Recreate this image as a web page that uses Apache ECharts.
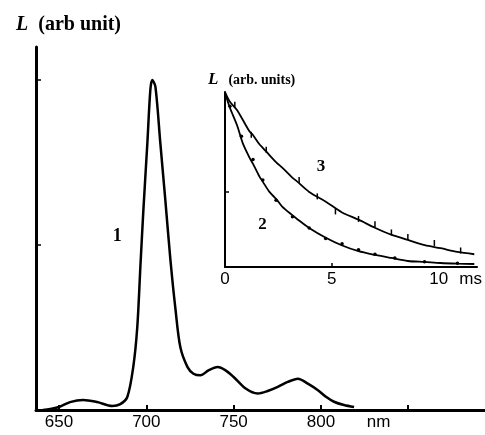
<!DOCTYPE html>
<html>
<head>
<meta charset="utf-8">
<script src="https://cdn.jsdelivr.net/npm/echarts@6.0.0/dist/echarts.min.js"></script>
<style>
  html, body { margin: 0; padding: 0; background: #fff; }
  #chart { width: 485px; height: 435px; }
</style>
</head>
<body>
<div id="chart"></div>
<script>
// Emission spectrum (curve 1)
const wavelength = [640.8, 644.8, 650, 656.3, 663.8, 671.8, 680.5, 685.1, 689.1, 692.5, 694.8, 696.6,
  698.3, 700.6, 702.3, 703.4, 705.2, 708.0, 710.9, 713.8, 716.7, 719.5, 723.6, 727.0, 731.0, 735.6,
  740.8, 745.4, 750.0, 756.9, 763.8, 769.5, 775.3, 781.0, 786.8, 792.5, 798.3, 802.9, 807.5, 813.2, 819.0];
const spectrum = [0, 0.006, 0.018, 0.048, 0.061, 0.048, 0.024, 0.036, 0.079, 0.26, 0.50, 0.87,
  1.21, 1.62, 1.94, 2.0, 1.96, 1.62, 1.27, 0.91, 0.61, 0.38, 0.26, 0.22, 0.21, 0.24,
  0.26, 0.24, 0.20, 0.13, 0.10, 0.115, 0.14, 0.17, 0.19, 0.16, 0.12, 0.08, 0.05, 0.03, 0.018];
const nmTicks = [650, 700, 750, 800, 850];
const nmLabels = [650, 700, 750, 800];

// Decay kinetics (inset): fitted curves 2 and 3
const decayTime = [0, 0.23, 0.56, 0.83, 1.16, 1.30, 1.62, 1.76, 2.08, 2.41, 2.69, 3.15, 3.33, 3.94,
  4.72, 5.46, 6.25, 7.04, 7.78, 8.56, 9.35, 10.09, 10.88, 11.67];
const decay3 = [2.33, 2.2, 2.09, 1.96, 1.80, 1.76, 1.63, 1.59, 1.49, 1.39, 1.32, 1.19, 1.15, 1.0,
  0.87, 0.73, 0.63, 0.52, 0.43, 0.36, 0.29, 0.25, 0.2, 0.17];
const decay2 = [2.32, 2.12, 1.89, 1.65, 1.45, 1.38, 1.2, 1.14, 1.0, 0.90, 0.8, 0.69, 0.65, 0.52,
  0.39, 0.29, 0.21, 0.16, 0.12, 0.08, 0.067, 0.053, 0.045, 0.04];

// measured points
const meas3Time = [0.46, 1.23, 1.93, 3.47, 4.32, 5.17, 6.25, 7.02, 7.79, 8.56, 9.80, 11.03];
const meas3 = [2.16, 1.76, 1.56, 1.16, 0.94, 0.74, 0.64, 0.57, 0.46, 0.40, 0.32, 0.22];
const meas2Time = [0.23, 0.77, 1.31, 1.77, 2.39, 3.16, 3.94, 4.71, 5.48, 6.25, 7.02, 7.95, 9.34, 10.88];
const meas2 = [2.14, 1.74, 1.43, 1.16, 0.89, 0.67, 0.52, 0.38, 0.31, 0.23, 0.17, 0.12, 0.07, 0.05];
const msLabels = [0, 5, 10];

const pairs = (xs, ys) => xs.map((x, i) => [x, ys[i]]);
const serif = "'Liberation Serif', 'DejaVu Serif', serif";
const sans = "'Liberation Sans', Arial, sans-serif";

const chart = echarts.init(document.getElementById('chart'));

const tagLabel = (text, size) => ({
  show: true,
  position: 'inside',
  formatter: text,
  color: '#000',
  opacity: 1,
  fontFamily: serif,
  fontWeight: 'bold',
  fontSize: size
});

const option = {
  animation: false,
  backgroundColor: '#fff',
  title: [
    {
      text: '{l|L}  {u|(arb unit)}',
      left: 11, top: 10,
      textStyle: {
        rich: {
          l: { fontFamily: serif, fontStyle: 'italic', fontWeight: 'bold', fontSize: 20, color: '#000' },
          u: { fontFamily: serif, fontWeight: 'bold', fontSize: 20, color: '#000' }
        }
      }
    },
    {
      text: '{l|L}  {u|(arb. units)}',
      left: 203, top: 66,
      textStyle: {
        rich: {
          l: { fontFamily: serif, fontStyle: 'italic', fontWeight: 'bold', fontSize: 17, color: '#000' },
          u: { fontFamily: serif, fontWeight: 'bold', fontSize: 14, color: '#000' }
        }
      }
    }
  ],
  grid: [
    { left: 36, top: 47, right: 0, bottom: 25 },
    { left: 225, top: 92, width: 255, height: 175 }
  ],
  xAxis: [
    {
      gridIndex: 0, type: 'value', min: 636.8, max: 894,
      axisLine: { onZero: false, lineStyle: { color: '#000', width: 3 } },
      axisTick: { inside: true, length: 5, customValues: nmTicks, lineStyle: { color: '#000', width: 2 } },
      axisLabel: {
        customValues: nmLabels.concat([833]),
        formatter: v => (v === 833 ? 'nm' : String(v)),
        color: '#000', fontFamily: sans, fontSize: 17, margin: 4
      },
      splitLine: { show: false }
    },
    {
      gridIndex: 1, type: 'value', min: 0, max: 11.8,
      axisLine: { onZero: false, lineStyle: { color: '#000', width: 2 } },
      axisTick: { inside: true, length: 4, customValues: [5], lineStyle: { color: '#000', width: 1.5 } },
      axisLabel: {
        customValues: msLabels.concat([11.5]),
        formatter: v => (v === 11.5 ? 'ms' : String(v)),
        color: '#000', fontFamily: sans, fontSize: 17, margin: 4
      },
      splitLine: { show: false }
    }
  ],
  yAxis: [
    {
      gridIndex: 0, type: 'value', min: 0, max: 2.2,
      axisLine: { show: true, onZero: false, lineStyle: { color: '#000', width: 3 } },
      axisTick: { show: true, inside: true, length: 5, customValues: [1, 2], lineStyle: { color: '#000', width: 1.5 } },
      axisLabel: { show: false },
      splitLine: { show: false }
    },
    {
      gridIndex: 1, type: 'value', min: 0, max: 2.33,
      axisLine: { show: true, onZero: false, lineStyle: { color: '#000', width: 2 } },
      axisTick: { show: true, inside: true, length: 4, customValues: [1], lineStyle: { color: '#000', width: 1.5 } },
      axisLabel: { show: false },
      splitLine: { show: false }
    }
  ],
  series: [
    {
      name: 'spectrum', type: 'line', xAxisIndex: 0, yAxisIndex: 0,
      data: pairs(wavelength, spectrum),
      smooth: 0.3, symbol: 'none',
      lineStyle: { color: '#000', width: 2.5 }
    },
    {
      name: 'decay 3', type: 'line', xAxisIndex: 1, yAxisIndex: 1,
      data: pairs(decayTime, decay3),
      smooth: 0.3, symbol: 'none',
      lineStyle: { color: '#000', width: 1.8 }
    },
    {
      name: 'decay 2', type: 'line', xAxisIndex: 1, yAxisIndex: 1,
      data: pairs(decayTime, decay2),
      smooth: 0.3, symbol: 'none',
      lineStyle: { color: '#000', width: 1.8 }
    },
    {
      name: 'points 3', type: 'scatter', xAxisIndex: 1, yAxisIndex: 1,
      data: pairs(meas3Time, meas3),
      symbol: 'rect', symbolSize: [1.5, 6],
      itemStyle: { color: '#000', opacity: 1 }
    },
    {
      name: 'points 2', type: 'scatter', xAxisIndex: 1, yAxisIndex: 1,
      data: pairs(meas2Time, meas2),
      symbol: 'circle', symbolSize: 3.5,
      itemStyle: { color: '#000', opacity: 1 }
    },
    {
      name: 'tag 1', type: 'scatter', xAxisIndex: 0, yAxisIndex: 0,
      data: [[683.3, 1.05]], symbolSize: 1,
      itemStyle: { color: 'rgba(0,0,0,0)', opacity: 1 },
      label: tagLabel('1', 18)
    },
    {
      name: 'tags inset', type: 'scatter', xAxisIndex: 1, yAxisIndex: 1,
      data: [
        { value: [4.49, 1.33], label: tagLabel('3', 17) },
        { value: [1.76, 0.56], label: tagLabel('2', 17) }
      ],
      symbolSize: 1,
      itemStyle: { color: 'rgba(0,0,0,0)', opacity: 1 }
    }
  ]
};

chart.setOption(option);
</script>
</body>
</html>
